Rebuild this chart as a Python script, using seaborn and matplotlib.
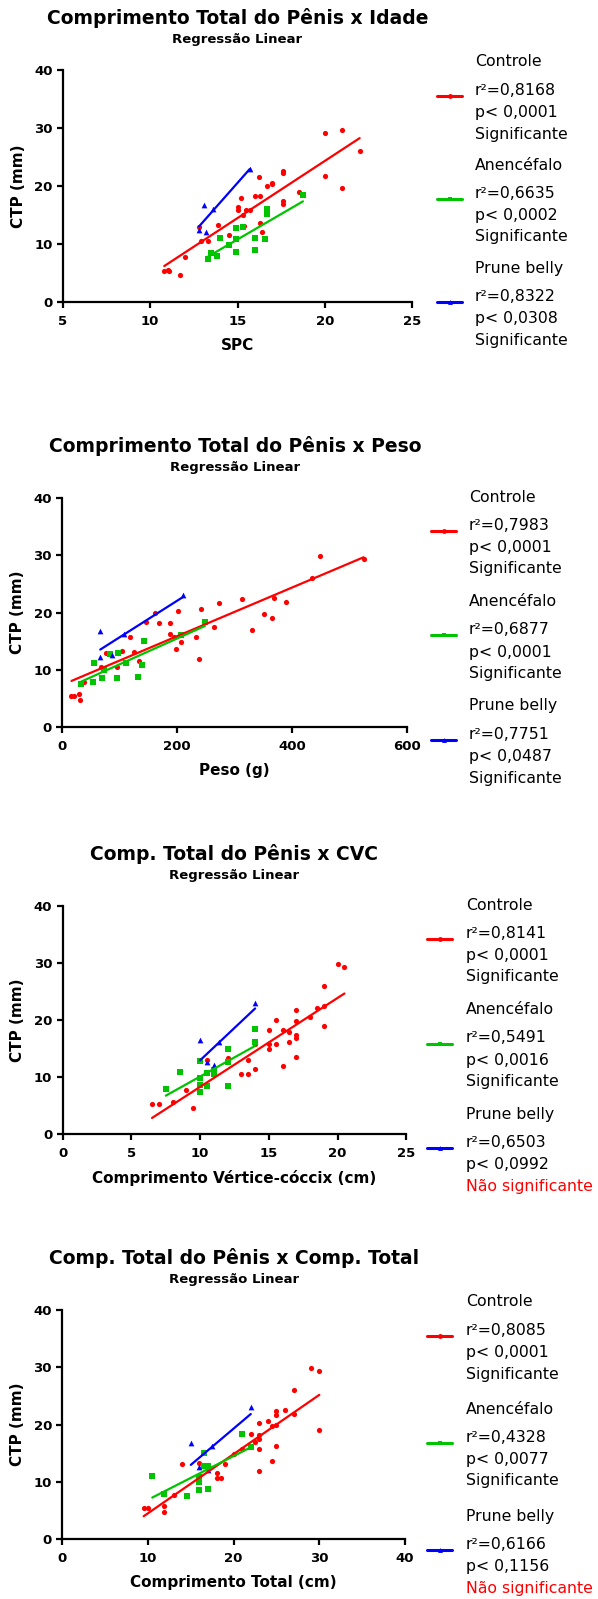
import pandas as pd
import matplotlib
matplotlib.use('Agg')
import matplotlib.pyplot as plt
from matplotlib.lines import Line2D
import seaborn as sns

# Painel 1 - SPC (idade)
spc_controle_x = [10.8, 11.0, 11.1, 11.7, 12.0, 12.8, 12.9, 13.3, 13.9, 14.5, 15.0, 15.05, 15.2, 15.3, 15.4, 15.5, 15.7, 16.0,
                  16.25, 16.3, 16.3, 16.4, 16.7, 17.0, 17.0, 17.6, 17.6, 17.6, 17.6, 18.5, 20.0, 21.0, 20.0, 21.0, 22.0]
spc_controle_y = [5.4, 5.6, 5.4, 4.7, 7.8, 13.0, 10.6, 10.6, 13.3, 11.6, 15.9, 16.3, 18.0, 15.0, 13.1, 15.9, 15.9, 18.2,
                  21.6, 18.3, 13.7, 12.0, 20.0, 20.3, 20.6, 22.6, 22.3, 17.5, 16.9, 19.0, 29.2, 29.7, 21.7, 19.7, 26.0]
spc_anencefalo_x = [13.3, 13.5, 13.8, 14.0, 14.5, 14.9, 14.9, 14.9, 15.3, 16.0, 16.0, 16.6, 16.7, 16.7, 18.75]
spc_anencefalo_y = [7.5, 8.5, 7.9, 11.1, 9.9, 12.7, 10.8, 8.6, 12.9, 11.1, 8.9, 10.8, 16.0, 15.2, 18.4]
spc_prune_x = [12.8, 13.1, 13.2, 13.6, 15.7]
spc_prune_y = [12.5, 16.7, 12.1, 16.0, 22.9]

# Painel 2 - Peso
peso_controle_x = [16, 20, 29, 31, 37, 68, 76, 95, 104, 117, 125, 134, 146, 162, 168, 188, 188, 195, 198, 202, 206,
                   232, 238, 241, 264, 272, 312, 330, 350, 364, 369, 389, 435, 449, 524]
peso_controle_y = [5.4, 5.4, 5.7, 4.7, 7.8, 10.5, 13.0, 10.5, 13.3, 15.8, 13.1, 11.6, 18.3, 20.0, 18.1, 18.2, 16.2, 15.8,
                   13.7, 20.2, 14.9, 15.8, 11.9, 20.6, 17.5, 21.7, 22.3, 16.9, 19.7, 19.0, 22.6, 21.8, 26.1, 29.8, 29.3]
peso_anencefalo_x = [33, 53, 55, 69, 73, 83, 95, 96, 110, 132, 138, 142, 206, 248]
peso_anencefalo_y = [7.5, 7.9, 11.1, 8.6, 10.0, 12.7, 8.6, 12.9, 11.1, 8.8, 10.8, 15.1, 16.0, 18.4]
peso_prune_x = [66, 66, 86, 107, 210]
peso_prune_y = [16.7, 12.2, 12.6, 16.2, 23.0]

# Painel 3 - CVC
cvc_controle_x = [6.5, 7.0, 8.0, 9.0, 9.5, 10.5, 12.0, 13.0, 13.5, 13.5, 14.0, 14.0, 15.0, 15.0, 15.0, 15.5, 15.5, 16.0,
                  16.0, 16.5, 16.5, 17.0, 17.0, 17.0, 17.0, 17.0, 18.0, 18.5, 19.0, 19.0, 19.0, 20.0, 20.5]
cvc_controle_y = [5.3, 5.3, 5.7, 7.7, 4.6, 13.0, 13.3, 10.5, 10.5, 13.1, 11.5, 15.8, 18.2, 15.8, 14.9, 20.1, 15.8, 18.3,
                  11.9, 18.0, 16.2, 21.7, 19.9, 17.4, 16.9, 13.6, 20.6, 22.2, 22.5, 26.0, 19.0, 29.8, 29.3]
cvc_anencefalo_x = [7.5, 8.5, 10.0, 10.0, 10.0, 10.0, 10.5, 10.5, 11.0, 11.0, 12.0, 12.0, 12.0, 14.0, 14.0]
cvc_anencefalo_y = [7.9, 11.0, 12.8, 9.9, 8.6, 7.4, 10.8, 8.5, 11.2, 10.6, 15.0, 12.6, 8.5, 18.4, 16.1]
cvc_prune_x = [10.0, 10.5, 11.0, 11.4, 14.0]
cvc_prune_y = [16.6, 12.6, 12.1, 16.2, 23.0]

# Painel 4 - Comprimento total
ct_controle_x = [9.5, 10.0, 11.9, 11.9, 13.0, 14.0, 16.0, 18.0, 18.0, 18.5, 19.0, 20.0, 21.0, 22.0, 22.5, 23.0, 23.0,
                 23.0, 23.0, 23.0, 24.0, 24.5, 24.5, 25.0, 25.0, 25.0, 25.0, 26.0, 27.0, 27.0, 29.0, 30.0, 30.0]
ct_controle_y = [5.4, 5.4, 5.7, 4.7, 7.7, 13.1, 13.3, 11.6, 10.6, 10.6, 13.1, 14.9, 15.8, 18.3, 17.0, 20.2, 18.1,
                 17.5, 15.8, 11.9, 20.6, 19.7, 13.7, 20.0, 22.3, 21.6, 16.2, 22.6, 26.0, 21.8, 29.8, 29.3, 19.0]
ct_anencefalo_x = [10.5, 11.9, 14.5, 16.0, 16.0, 16.0, 16.5, 16.5, 17.0, 17.0, 21.0, 22.0]
ct_anencefalo_y = [11.0, 7.9, 7.5, 10.9, 9.9, 8.5, 15.1, 12.7, 12.8, 8.8, 18.4, 16.0]
ct_prune_x = [15.0, 16.0, 17.0, 17.5, 22.0]
ct_prune_y = [16.7, 12.6, 12.1, 16.2, 23.0]

grupos = ['Controle', 'Anencéfalo', 'Prune belly']

titulos = ['Comprimento Total do Pênis x Idade', 'Comprimento Total do Pênis x Peso',
           'Comp. Total do Pênis x CVC', 'Comp. Total do Pênis x Comp. Total']
rotulos_x = ['SPC', 'Peso (g)', 'Comprimento Vértice-cóccix (cm)', 'Comprimento Total (cm)']
ticks_x = [[5, 10, 15, 20, 25], [0, 200, 400, 600], [0, 5, 10, 15, 20, 25], [0, 10, 20, 30, 40]]

r2 = [['0,8168', '0,6635', '0,8322'],
      ['0,7983', '0,6877', '0,7751'],
      ['0,8141', '0,5491', '0,6503'],
      ['0,8085', '0,4328', '0,6166']]
p_valor = [['0,0001', '0,0002', '0,0308'],
           ['0,0001', '0,0001', '0,0487'],
           ['0,0001', '0,0016', '0,0992'],
           ['0,0001', '0,0077', '0,1156']]
significancia = [['Significante', 'Significante', 'Significante'],
                 ['Significante', 'Significante', 'Significante'],
                 ['Significante', 'Significante', 'Não significante'],
                 ['Significante', 'Significante', 'Não significante']]

dados = [
    [(spc_controle_x, spc_controle_y), (spc_anencefalo_x, spc_anencefalo_y), (spc_prune_x, spc_prune_y)],
    [(peso_controle_x, peso_controle_y), (peso_anencefalo_x, peso_anencefalo_y), (peso_prune_x, peso_prune_y)],
    [(cvc_controle_x, cvc_controle_y), (cvc_anencefalo_x, cvc_anencefalo_y), (cvc_prune_x, cvc_prune_y)],
    [(ct_controle_x, ct_controle_y), (ct_anencefalo_x, ct_anencefalo_y), (ct_prune_x, ct_prune_y)],
]

cores = ['#FF0000', '#00C400', '#0000FF']
marcadores = ['o', 's', '^']
tamanhos = [14, 17, 17]

sns.set_style('ticks')
plt.rcParams['font.family'] = ['DejaVu Sans']
plt.rcParams['text.color'] = 'black'
plt.rcParams['axes.labelcolor'] = 'black'
plt.rcParams['axes.edgecolor'] = 'black'
plt.rcParams['xtick.color'] = 'black'
plt.rcParams['ytick.color'] = 'black'

W, H = 598, 1599
fig = plt.figure(figsize=(W / 100, H / 100), dpi=100)


def fx(x):
    return x / W


def fy(y):
    return 1 - y / H


# caixas dos eixos em pixels: esquerda, topo, direita, base
caixas = [(63, 70, 412, 302), (62.3, 498, 407.3, 727), (62.7, 906, 406.3, 1134.3), (62.3, 1310, 405, 1539)]
# posicao da legenda: x da linha, x do texto, y do primeiro grupo, espacamento
legendas = [(437, 475, 62, 103), (431, 469, 497, 104.5), (427, 466, 905, 104.5), (427, 466, 1302, 107)]

for i in range(4):
    l, t, r, b = caixas[i]
    ax = fig.add_axes([fx(l), fy(b), (r - l) / W, (b - t) / H])
    for j in range(3):
        x, y = dados[i][j]
        df = pd.DataFrame({'x': x, 'y': y})
        sns.regplot(data=df, x='x', y='y', ax=ax, ci=None, truncate=True,
                    marker=marcadores[j], color=cores[j],
                    scatter_kws={'s': tamanhos[j], 'linewidths': 0, 'alpha': 1},
                    line_kws={'lw': 1.6})

    ax.set_xlim(ticks_x[i][0], ticks_x[i][-1])
    ax.set_ylim(0, 40)
    ax.set_xticks(ticks_x[i])
    ax.set_yticks([0, 10, 20, 30, 40])
    sns.despine(ax=ax)
    for s in ['left', 'bottom']:
        ax.spines[s].set_linewidth(1.6)
    ax.tick_params(length=4.5, width=1.6, labelsize=9.5, pad=3)
    ax.tick_params(axis='x', pad=5)
    for lab in ax.get_xticklabels() + ax.get_yticklabels():
        lab.set_fontweight('bold')
    ax.set_xlabel(rotulos_x[i], fontsize=11, fontweight='bold', labelpad=7)
    ax.set_ylabel('CTP (mm)', fontsize=11, fontweight='bold', labelpad=6)

    cx = (l + r) / 2
    fig.text(fx(cx), fy(t - 52), titulos[i], ha='center', va='center', fontsize=13.5, fontweight='bold')
    fig.text(fx(cx), fy(t - 30), 'Regressão Linear', ha='center', va='center', fontsize=9.5, fontweight='bold')

    # legenda
    lx, tx, y0, dy = legendas[i]
    for j in range(3):
        yg = y0 + j * dy
        fig.text(fx(tx), fy(yg), grupos[j], ha='left', va='center', fontsize=11.3)
        fig.text(fx(tx), fy(yg + 28.5), 'r²=' + r2[i][j], ha='left', va='center', fontsize=11.3)
        fig.text(fx(tx), fy(yg + 50.5), 'p< ' + p_valor[i][j], ha='left', va='center', fontsize=11.3)
        cor_sig = '#FF0000' if significancia[i][j].startswith('Não') else 'black'
        fig.text(fx(tx), fy(yg + 72), significancia[i][j], ha='left', va='center', fontsize=11.3, color=cor_sig)
        fig.add_artist(Line2D([fx(lx), fx(lx + 25)], [fy(yg + 34)] * 2, transform=fig.transFigure,
                              color=cores[j], lw=2.2))
        fig.add_artist(Line2D([fx(lx + 12.5)], [fy(yg + 34)], transform=fig.transFigure,
                              color=cores[j], marker=marcadores[j], ms=3.5, mew=0))

fig.savefig('out.png', dpi=100)
